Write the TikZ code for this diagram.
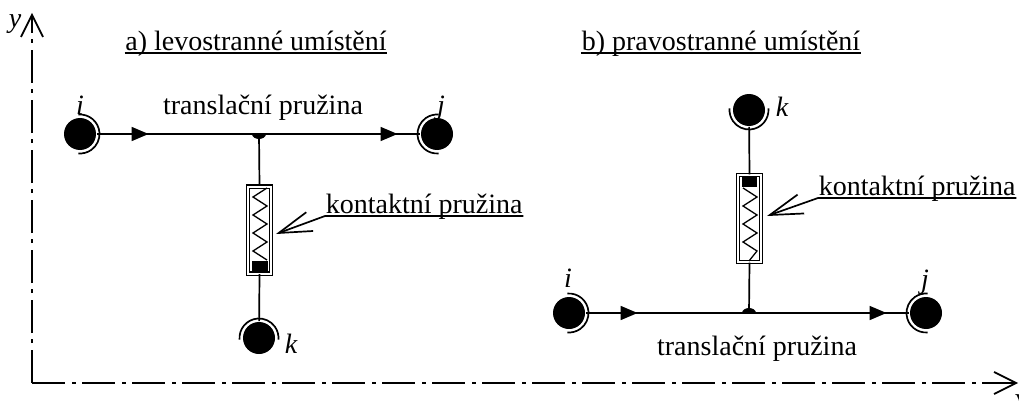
\documentclass[tikz,border=0pt]{standalone}
\usepackage{fontspec}
\setmainfont{Liberation Serif}
\usetikzlibrary{arrows.meta,decorations.markings,positioning}

\begin{document}
\begin{tikzpicture}[x=1pt,y=-1pt,line width=1.7pt,
		uzel/.style={fill=black,circle,minimum size=32pt,inner sep=0pt},
		ozn/.style={font=\fontsize{28}{30}\selectfont\itshape,anchor=base,inner sep=0pt},
		txt/.style={font=\fontsize{28}{30}\selectfont,anchor=base,inner sep=0pt},
		osa/.style={dash pattern=on 33pt off 7pt on 4pt off 6pt,-{Straight Barb[length=22pt,width=22pt]}},
		sipky/.style={postaction={decorate},decoration={markings,
				mark=at position 0.16 with {\arrow{Triangle[length=17pt,width=14pt]}},
				mark=at position 0.93 with {\arrow{Triangle[length=17pt,width=14pt]}}}},
		pruz/.style={draw,double,double distance=2pt,line width=1.1pt,minimum width=23pt,minimum height=87pt,inner sep=0pt},
		popis/.style={{Straight Barb[length=33pt,width=20pt]}-}]
	\useasboundingbox (0,0) rectangle (1019,401);
	\clip (0,0) rectangle (1019,401);
	
	% osy
	\coordinate (o) at (32,383);
	\coordinate (ky) at (32,13);
	\coordinate (kx) at (1018,383);
	\draw[osa] (o) -- (ky);
	\draw[osa] (o) -- (kx);
	\node[ozn] (ly) at (15,28) {y};
	\node[ozn,anchor=base west] (lx) at (1013,407) {x};
	
	% a) levostranne umisteni
	\node[txt] (ta) at (256,51) {a) levostranné umístění};
	\draw[line width=1.4pt] ([yshift=-2pt]ta.base west) -- ([yshift=-2pt]ta.base east);
	\node[txt] (tr1) at (263,115) {translační pružina};
	
	\node[uzel] (i1) at (80,134) {};
	\node[uzel] (j1) at (437,134) {};
	\node[uzel] (k1) at (259,338) {};
	\node[ozn] (li1) at (80,115) {i};
	\node[ozn] (lj1) at (441,114) {j};
	\node[ozn] (lk1) at (291,353) {k};
	\draw ([shift={(-95:19.5)}]i1.center) arc[start angle=-95,end angle=95,radius=19.5];
	\draw ([shift={(85:19.5)}]j1.center) arc[start angle=85,end angle=275,radius=19.5];
	\draw ([shift={(175:19.5)}]k1.center) arc[start angle=175,end angle=365,radius=19.5];
	
	\draw[sipky] (i1) -- (j1);
	\coordinate (u1) at (259,134);
	\fill ([xshift=-7pt]u1) arc[start angle=180,end angle=0,x radius=7,y radius=5] -- cycle;
	
	\node[pruz] (b1) at (259.5,230) {};
	\draw (u1) -- (b1.north);
	\draw (b1.south) -- (k1);
	\draw[line width=1.3pt] (267,188) -- (253,197) -- (267,206) -- (253,215) -- (267,224)
		-- (253,233) -- (267,242) -- (253,251) -- (267,260);
	\fill (252,261) rectangle (268,272);
	
	\coordinate (h1) at (276,234);
	\node[txt,anchor=base west] (t1) at (325,213) {kontaktní pružina};
	\draw[popis] (h1) -- ([yshift=-3pt]t1.base west) -- ([yshift=-3pt]t1.base east);
	
	% b) pravostranne umisteni
	\node[txt] (tb) at (721,51) {b) pravostranné umístění};
	\draw[line width=1.4pt] ([yshift=-2pt]tb.base west) -- ([yshift=-2pt]tb.base east);
	\node[txt] (tr2) at (757,355) {translační pružina};
	
	\node[uzel] (i2) at (569,313) {};
	\node[uzel] (j2) at (926,313) {};
	\node[uzel] (k2) at (749,110) {};
	\node[ozn] (li2) at (568,287) {i};
	\node[ozn] (lj2) at (925,288) {j};
	\node[ozn] (lk2) at (782,117) {k};
	\draw ([shift={(-95:19.5)}]i2.center) arc[start angle=-95,end angle=95,radius=19.5];
	\draw ([shift={(85:19.5)}]j2.center) arc[start angle=85,end angle=275,radius=19.5];
	\draw ([shift={(-5:19.5)}]k2.center) arc[start angle=-5,end angle=185,radius=19.5];
	
	\draw[sipky] (i2) -- (j2);
	\coordinate (u2) at (749,313);
	\fill ([xshift=-7pt]u2) arc[start angle=180,end angle=360,x radius=7,y radius=5] -- cycle;
	
	\node[pruz] (b2) at (749.5,218.5) {};
	\draw (k2) -- (b2.north);
	\draw (b2.south) -- (u2);
	\fill (742,177) rectangle (757,187);
	\draw[line width=1.3pt] (743,188) -- (757,197) -- (743,206) -- (757,215) -- (743,224)
		-- (757,233) -- (743,242) -- (757,251) -- (749,261);
	
	\coordinate (h2) at (767,216);
	\node[txt,anchor=base west] (t2) at (818,195) {kontaktní pružina};
	\draw[popis] (h2) -- ([yshift=-3pt]t2.base west) -- ([yshift=-3pt]t2.base east);
\end{tikzpicture}
\end{document}
